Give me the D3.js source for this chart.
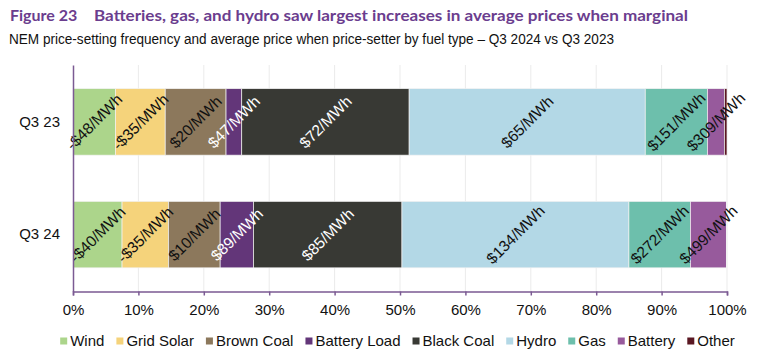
<!DOCTYPE html>
<html>
<head>
<meta charset="utf-8">
<script src="https://cdn.jsdelivr.net/npm/d3@7"></script>
<style>
  body { margin: 0; background: #fff; }
  svg { display: block; }
</style>
</head>
<body>
<svg id="chart" width="768" height="354"></svg>
<script>
// periods on the y axis
const categories = ["Q3 23", "Q3 24"];
// fuel types in stacking order
const fuels = ["Wind", "Grid Solar", "Brown Coal", "Battery Load", "Black Coal", "Hydro", "Gas", "Battery", "Other"];
// price-setting frequency (% of intervals)
const share23 = [6.5, 7.6, 9.3, 2.4, 25.6, 36.1, 9.5, 2.6, 0.4];
const share24 = [7.5, 7.1, 7.9, 5.1, 22.7, 34.7, 9.4, 5.5, 0.1];
// average price when price-setter ($/MWh), null = no label
const price23 = [-48, -35, 20, 47, 72, 65, 151, 309, null];
const price24 = [-40, -35, 10, 89, 85, 134, 272, 499, null];
const xTicks = [0, 10, 20, 30, 40, 50, 60, 70, 80, 90, 100];

const colors = ["#acd58b", "#f5d37b", "#8c785c", "#633679", "#383934", "#b3d8e6", "#6dbfac", "#975a9c", "#5a1722"];
const lightText = ["Battery Load", "Black Coal"];

const svg = d3.select("#chart");
const font = "'Liberation Sans', Arial, sans-serif";
const purple = "#6b3d8e";

// titles
svg.append("text")
   .attr("x", 10).attr("y", 21)
   .attr("fill", purple)
   .style("font-family", "'Century Gothic', Lato, sans-serif")
   .style("font-weight", "bold").style("font-size", "16px")
   .text("Figure 23");
svg.append("text")
   .attr("x", 94).attr("y", 21)
   .attr("fill", purple)
   .attr("textLength", 594).attr("lengthAdjust", "spacingAndGlyphs")
   .style("font-family", "'Century Gothic', Lato, sans-serif")
   .style("font-weight", "bold").style("font-size", "16px")
   .text("Batteries, gas, and hydro saw largest increases in average prices when marginal");
svg.append("text")
   .attr("x", 9).attr("y", 44)
   .attr("fill", "#111")
   .attr("textLength", 605).attr("lengthAdjust", "spacingAndGlyphs")
   .style("font-family", "'Liberation Sans Narrow', 'Arial Narrow', Arial, sans-serif")
   .style("font-size", "14px")
   .text("NEM price-setting frequency and average price when price-setter by fuel type \u2013 Q3 2024 vs Q3 2023");

// scales
let plotLeft = 73, plotRight = 727, plotTop = 65, plotBottom = 291.5;
let xScale = d3.scaleLinear().domain([0, 100]).range([plotLeft, plotRight]);
let yScale = d3.scaleBand().domain(categories).range([plotTop, plotBottom])
               .paddingInner(0.41).paddingOuter(0.21);

// gridlines
svg.append("g").selectAll("line")
   .data(xTicks.slice(1))
   .enter().append("line")
   .attr("x1", d => xScale(d)).attr("x2", d => xScale(d))
   .attr("y1", plotTop).attr("y2", plotBottom)
   .attr("stroke", "#ebebeb").attr("stroke-width", 1);

// build stacked rows
let rows = [
    {cat: categories[0], share: share23, price: price23},
    {cat: categories[1], share: share24, price: price24}
];
let segs = [];
rows.forEach(function(r) {
    let ends = d3.cumsum(r.share);
    r.share.forEach(function(v, i) {
        segs.push({cat: r.cat, fuel: fuels[i], color: colors[i],
                   x0: ends[i] - v, x1: ends[i], price: r.price[i]});
    });
});

let bars = svg.append("g");
bars.selectAll("rect")
    .data(segs)
    .enter().append("rect")
    .attr("x", d => xScale(d.x0))
    .attr("y", d => yScale(d.cat))
    .attr("width", d => xScale(d.x1) - xScale(d.x0))
    .attr("height", yScale.bandwidth())
    .attr("fill", d => d.color)
    .attr("stroke", "#f2f2f2").attr("stroke-width", 0.7);

// price labels, rotated
bars.selectAll("text")
    .data(segs.filter(d => d.price !== null))
    .enter().append("text")
    .attr("transform", function(d) {
        let cx = (xScale(d.x0) + xScale(d.x1)) / 2;
        let cy = yScale(d.cat) + yScale.bandwidth() / 2;
        return "translate(" + cx + "," + cy + ") rotate(-45)";
    })
    .attr("text-anchor", "middle")
    .attr("dy", "0.35em")
    .attr("fill", d => lightText.includes(d.fuel) ? "#fff" : "#111")
    .style("font-family", font).style("font-size", "15.5px")
    .text(d => (d.price < 0 ? "-$" : "$") + Math.abs(d.price) + "/MWh");

// axes
let xAxis = d3.axisBottom(xScale).tickValues(xTicks).tickFormat(d => d + "%")
              .tickSizeInner(4).tickSizeOuter(4).tickPadding(9);
let gx = svg.append("g")
   .attr("transform", "translate(0," + plotBottom + ")")
   .call(xAxis);
gx.select(".domain").attr("stroke", "#7b5a93").attr("stroke-width", 1.5);
gx.selectAll(".tick line").attr("stroke", "#7b5a93").attr("stroke-width", 1.5);
gx.selectAll("text").attr("fill", "#111").style("font-family", font).style("font-size", "15px");

let yAxis = d3.axisLeft(yScale).tickSize(0).tickPadding(13);
let gy = svg.append("g")
   .attr("transform", "translate(" + plotLeft + ",0)")
   .call(yAxis);
gy.select(".domain").attr("stroke", "#7b5a93").attr("stroke-width", 1.5);
gy.selectAll("text").attr("fill", "#111").style("font-family", font).style("font-size", "15px");

// legend
let legend = svg.append("g");
let lx = 0;
fuels.forEach(function(f, i) {
    let item = legend.append("g").attr("transform", "translate(" + lx + ",0)");
    item.append("rect")
        .attr("x", 0).attr("y", -3.5).attr("width", 7).attr("height", 7)
        .attr("fill", colors[i]);
    let t = item.append("text")
        .attr("x", 10).attr("y", 0).attr("dy", "0.35em")
        .attr("fill", "#111")
        .style("font-family", font).style("font-size", "15px")
        .text(f);
    lx += 10 + t.node().getComputedTextLength() + 12;
});
let legendW = lx - 12;
legend.attr("transform", "translate(" + (397.5 - legendW / 2) + ",341)");
</script>
</body>
</html>
